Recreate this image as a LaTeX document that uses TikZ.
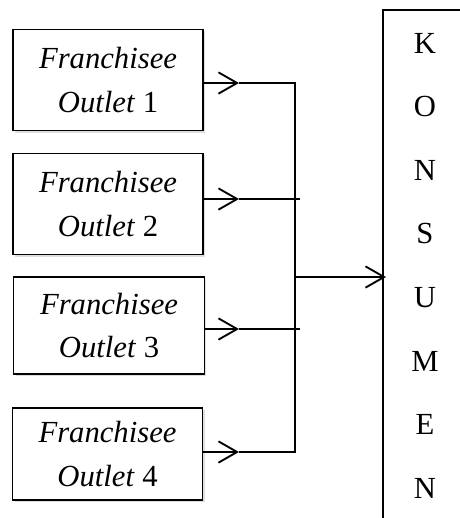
\documentclass[tikz,border=0pt]{standalone}
\usepackage{fontspec}
\setmainfont{Liberation Serif}
\usetikzlibrary{arrows.meta,shadows,calc}
\tikzset{
  outlet/.style={draw, line width=1.1pt, minimum width=142.5pt, minimum height=76pt,
    align=center, inner sep=0pt, fill=white,
    font=\fontsize{23}{32.5}\selectfont,
    drop shadow={shadow xshift=1.5pt, shadow yshift=-1.5pt, opacity=0.25, fill=gray}},
  conn/.style={line width=1pt},
  barb/.style={-{Straight Barb[length=14pt, width=16pt, line width=1.4pt]}},
  stub/.style={line width=1.8pt, barb},
  letter/.style={font=\fontsize{23}{24}\selectfont, inner sep=0pt}
}
\begin{document}
\begin{tikzpicture}[x=0.75pt,y=-0.75pt]
\useasboundingbox (0,0) rectangle (460,518);
\clip (0,0) rectangle (460,518);
% outlet boxes
\node[outlet] (o1) at (108,80) {\textit{Franchisee}\\\textit{Outlet} 1};
\node[outlet] (o2) at (108,204) {\textit{Franchisee}\\\textit{Outlet} 2};
\node[outlet, minimum width=143pt, minimum height=73pt] (o3) at (109,325.5) {\textit{Franchisee}\\\textit{Outlet} 3};
\node[outlet, minimum height=69pt] (o4) at (107.5,454) {\textit{Franchisee}\\\textit{Outlet} 4};
% konsumen box
\node[draw, line width=1.4pt, minimum width=105pt, minimum height=450pt, anchor=north west, inner sep=0pt] (kons) at (382,9) {};
\foreach \l [count=\i] in {K,O,N,S,U,M,E,N}
  \node[letter] (k\i) at (425, {43+(\i-1)*63.6}) {\l};
% connector points
\coordinate (t1) at (239,83);
\coordinate (t2) at (239,199);
\coordinate (t3) at (239,329);
\coordinate (t4) at (239,452);
\coordinate (c1) at (295,83);
\coordinate (c2) at (300,199);
\coordinate (c3) at (300,329);
\coordinate (c4) at (295,452);
\coordinate (m) at (295,277);
\coordinate (ktip) at ($(kons.west |- m)+(4,0)$);
% stubs with arrowheads
\draw[stub] (o1.east |- t1) -- (t1);
\draw[stub] (o2.east |- t2) -- (t2);
\draw[stub] (o3.east |- t3) -- (t3);
\draw[stub] (o4.east |- t4) -- (t4);
% lines to the bus
\draw[conn] (t1) -- (c1) -- (c4) -- (t4);
\draw[conn] (t2) -- (c2);
\draw[conn] (t3) -- (c3);
\draw[line width=1.6pt, barb] (m) -- (ktip);
\end{tikzpicture}
\end{document}
